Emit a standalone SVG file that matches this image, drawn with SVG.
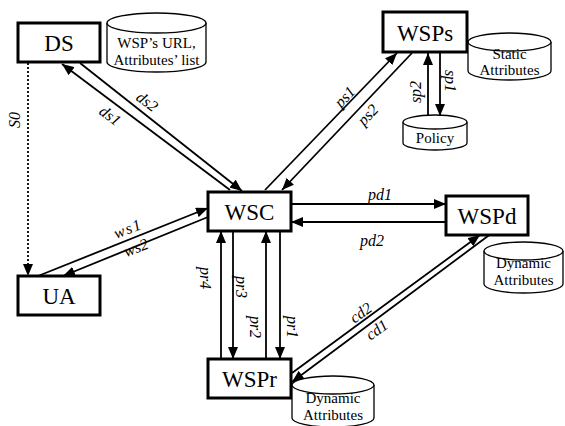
<svg xmlns="http://www.w3.org/2000/svg" width="565" height="426" viewBox="0 0 565 426">
<defs>
<marker id="ah" markerUnits="userSpaceOnUse" markerWidth="13" markerHeight="10" refX="12" refY="5" orient="auto">
<path d="M0,0 L12,5 L0,10 z" fill="#000"/>
</marker>
</defs>
<style>
.box{fill:#fff;stroke:#000;stroke-width:3}
.nl{font-family:"Liberation Serif","Times New Roman",serif;font-size:23px;text-anchor:middle;fill:#000}
.cyl{fill:#fff;stroke:#000;stroke-width:1.3}
.ct{font-family:"Liberation Serif","Times New Roman",serif;font-size:15px;text-anchor:middle;fill:#000}
.e{stroke:#000;stroke-width:1.8;fill:none;marker-end:url(#ah)}
.lb{font-family:"Liberation Serif","Times New Roman",serif;font-size:16px;font-style:italic;text-anchor:middle;fill:#000}
</style>
<rect width="565" height="426" fill="#fff"/>

<g id="edges">
<path class="e" d="M28,63 L28,276" stroke-dasharray="2,2" stroke-width="1.5"/>
<path class="e" d="M230,190 L62,64"/>
<path class="e" d="M80,63 L242,191"/>
<path class="e" d="M265,190 L397,53"/>
<path class="e" d="M412,53 L282,190"/>
<path class="e" d="M428,117 L428,53"/>
<path class="e" d="M440,53 L440,116"/>
<path class="e" d="M38,276 L208,208"/>
<path class="e" d="M208,217 L63,276"/>
<path class="e" d="M291,204 L446,204"/>
<path class="e" d="M446,222 L291,222"/>
<path class="e" d="M221,359 L221,231"/>
<path class="e" d="M233,231 L233,359"/>
<path class="e" d="M266,359 L266,231"/>
<path class="e" d="M280,231 L280,359"/>
<path class="e" d="M292,373 L480,235"/>
<path class="e" d="M492,233 L292,382"/>
<text class="lb" transform="translate(15,120) rotate(-90)" y="5">S0</text>
<text class="lb" transform="translate(147,102) rotate(37)" y="5">ds2</text>
<text class="lb" transform="translate(110,116) rotate(37)" y="5">ds1</text>
<text class="lb" transform="translate(345,97) rotate(-46)" y="5">ps1</text>
<text class="lb" transform="translate(368,115) rotate(-46)" y="5">ps2</text>
<text class="lb" transform="translate(416,92) rotate(-90)" y="5">sp2</text>
<text class="lb" transform="translate(450,81) rotate(90)" y="5">sp1</text>
<text class="lb" transform="translate(128,229) rotate(-21.5)" y="5" font-size="17" letter-spacing="1.5">ws1</text>
<text class="lb" transform="translate(136,248) rotate(-21.5)" y="5">ws2</text>
<text class="lb" x="380" y="200">pd1</text>
<text class="lb" x="372" y="246">pd2</text>
<text class="lb" transform="translate(205,278) rotate(90)" y="5">pr4</text>
<text class="lb" transform="translate(241,287) rotate(90)" y="5">pr3</text>
<text class="lb" transform="translate(255,327) rotate(90)" y="5">pr2</text>
<text class="lb" transform="translate(292,327) rotate(90)" y="5">pr1</text>
<text class="lb" transform="translate(361,313) rotate(-36)" y="5">cd2</text>
<text class="lb" transform="translate(377,330) rotate(-36)" y="5">cd1</text>
</g>

<g id="DS">
<rect class="box" x="18" y="23" width="82" height="39"/>
<text class="nl" x="59" y="51">DS</text>
</g>
<g id="DS-store">
<path class="cyl" d="M107,23 A49.5,10 0 0 1 206,23 L206,62 A49.5,10 0 0 1 107,62 Z"/>
<path class="cyl" d="M107,23 A49.5,10 0 0 0 206,23" fill="none"/>
<text class="ct" x="156.5" y="48">WSP’s URL,</text>
<text class="ct" x="156.5" y="65">Attributes’ list</text>
</g>

<g id="WSPs">
<rect class="box" x="383" y="12" width="84" height="40"/>
<text class="nl" x="425" y="41">WSPs</text>
</g>
<g id="WSPs-static">
<path class="cyl" d="M468,42 A41.5,9 0 0 1 551,42 L551,71 A41.5,9 0 0 1 468,71 Z"/>
<path class="cyl" d="M468,42 A41.5,9 0 0 0 551,42" fill="none"/>
<text class="ct" x="509.5" y="59">Static</text>
<text class="ct" x="509.5" y="75">Attributes</text>
</g>
<g id="Policy">
<path class="cyl" d="M403,122 A32,7 0 0 1 467,122 L467,143 A32,7 0 0 1 403,143 Z"/>
<path class="cyl" d="M403,122 A32,7 0 0 0 467,122" fill="none"/>
<text class="ct" x="435" y="143" font-size="16">Policy</text>
</g>

<g id="WSC">
<rect class="box" x="208" y="192" width="83" height="39"/>
<text class="nl" x="249.5" y="220">WSC</text>
</g>

<g id="UA">
<rect class="box" x="18" y="276" width="82" height="39"/>
<text class="nl" x="59" y="304">UA</text>
</g>

<g id="WSPd">
<rect class="box" x="446" y="196" width="82" height="39"/>
<text class="nl" x="487" y="224">WSPd</text>
</g>
<g id="WSPd-dyn">
<path class="cyl" d="M484,251 A39.5,9 0 0 1 563,251 L563,284 A39.5,9 0 0 1 484,284 Z"/>
<path class="cyl" d="M484,251 A39.5,9 0 0 0 563,251" fill="none"/>
<text class="ct" x="523.5" y="268">Dynamic</text>
<text class="ct" x="523.5" y="285">Attributes</text>
</g>

<g id="WSPr">
<rect class="box" x="208" y="359" width="83" height="39"/>
<text class="nl" x="249.5" y="387">WSPr</text>
</g>
<g id="WSPr-dyn">
<path class="cyl" d="M292,385 A41,9 0 0 1 374,385 L374,418 A41,9 0 0 1 292,418 Z"/>
<path class="cyl" d="M292,385 A41,9 0 0 0 374,385" fill="none"/>
<text class="ct" x="333" y="403">Dynamic</text>
<text class="ct" x="333" y="420">Attributes</text>
</g>
</svg>
